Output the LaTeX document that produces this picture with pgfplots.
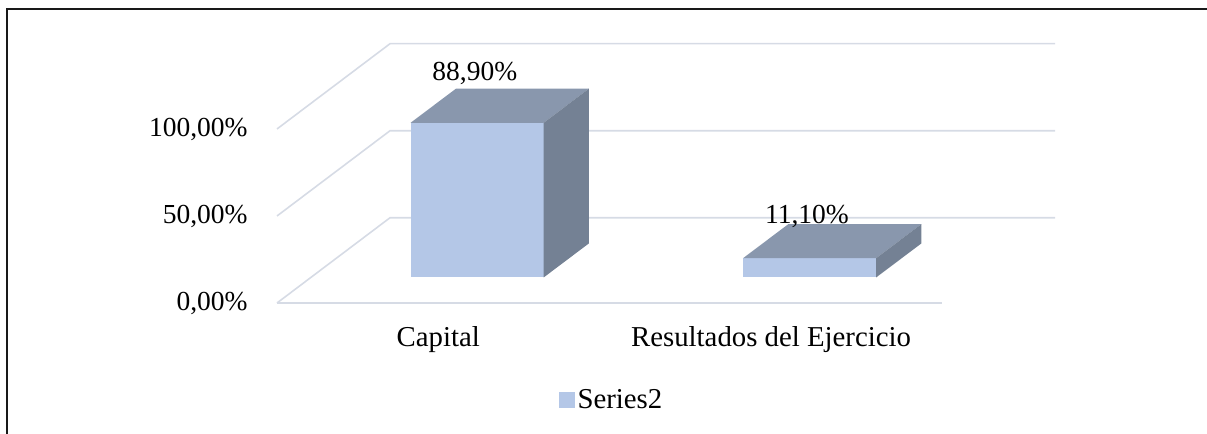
\documentclass[border=0pt]{standalone}
\usepackage{fontspec}
\setmainfont{Liberation Serif}
\usepackage{pgfplots}
\pgfplotsset{compat=1.18}
\definecolor{barfront}{HTML}{B4C7E7}
\definecolor{bartop}{HTML}{8997AD}
\definecolor{barside}{HTML}{748194}
\definecolor{gridc}{HTML}{D6DBE5}
\newcommand\chartfont{\fontsize{13.75}{16}\selectfont}
\newcommand\catfont{\fontsize{14.4}{17}\selectfont}
\begin{document}
\begin{tikzpicture}
\path[use as bounding box] (0,0) rectangle (603.5pt,217pt);
\draw[line width=1pt, black!90] (3.25pt,-2pt) -- (3.25pt,212.25pt) -- (606pt,212.25pt);
\begin{axis}[
  at={(138.5pt,65.5pt)}, anchor=south west,
  scale only axis, width=389pt, height=130pt,
  xmin=-0.5, xmax=1.84, ymin=0, ymax=149.4,
  clip=false,
  xtick={-0.015,0.986}, xticklabels={Capital,Resultados del Ejercicio},
  ytick={0,50,100}, yticklabels={{0,00\%},{50,00\%},{100,00\%}},
  tick style={draw=none},
  axis line style={draw=none},
  xticklabel style={anchor=base, inner sep=0pt, yshift=-22pt, font=\catfont},
  yticklabel style={anchor=east, inner sep=0pt, xshift=-14.5pt, font=\chartfont},
  legend style={at={(0.4306,-0.373)}, anchor=center, draw=none, fill=none, font=\catfont,
    inner sep=0pt, nodes={inner sep=1.5pt}},
]
% gridlines (side wall + back wall + floor)
\addplot[gridc, line width=0.8pt, forget plot] coordinates {(-0.5,0) (1.5,0)};
\addplot[gridc, line width=0.8pt, forget plot] coordinates {(-0.5,0) (-0.16,49) (1.84,49)};
\addplot[gridc, line width=0.8pt, forget plot] coordinates {(-0.5,50) (-0.16,99) (1.84,99)};
\addplot[gridc, line width=0.8pt, forget plot] coordinates {(-0.5,100) (-0.16,149) (1.84,149)};
% Capital: 88.9
\addplot[fill=barfront, draw=none, forget plot] coordinates {(-0.098,14.67) (0.302,14.67) (0.302,103.57) (-0.098,103.57)} -- cycle;
\addplot[fill=bartop, draw=none, forget plot] coordinates {(-0.098,103.57) (0.302,103.57) (0.438,123.13) (0.038,123.13)} -- cycle;
\addplot[fill=barside, draw=none, forget plot] coordinates {(0.302,14.67) (0.438,34.23) (0.438,123.13) (0.302,103.57)} -- cycle;
% Resultados del Ejercicio: 11.1
\addplot[fill=barfront, draw=none, forget plot] coordinates {(0.902,14.67) (1.302,14.67) (1.302,25.77) (0.902,25.77)} -- cycle;
\addplot[fill=bartop, draw=none, forget plot] coordinates {(0.902,25.77) (1.302,25.77) (1.438,45.33) (1.038,45.33)} -- cycle;
\addplot[fill=barside, draw=none, forget plot] coordinates {(1.302,14.67) (1.438,34.23) (1.438,45.33) (1.302,25.77)} -- cycle;
\node[font=\chartfont, anchor=base, inner sep=0pt] at (axis cs:0.095,127.6) {88,90\%};
\node[font=\chartfont, anchor=base, inner sep=0pt] at (axis cs:1.094,45.4) {11,10\%};
\addlegendimage{legend image code/.code={\fill[barfront] (0pt,-3.75pt) rectangle (7.5pt,3.75pt);}}
\addlegendentry{Series2}
\end{axis}
\end{tikzpicture}
\end{document}
